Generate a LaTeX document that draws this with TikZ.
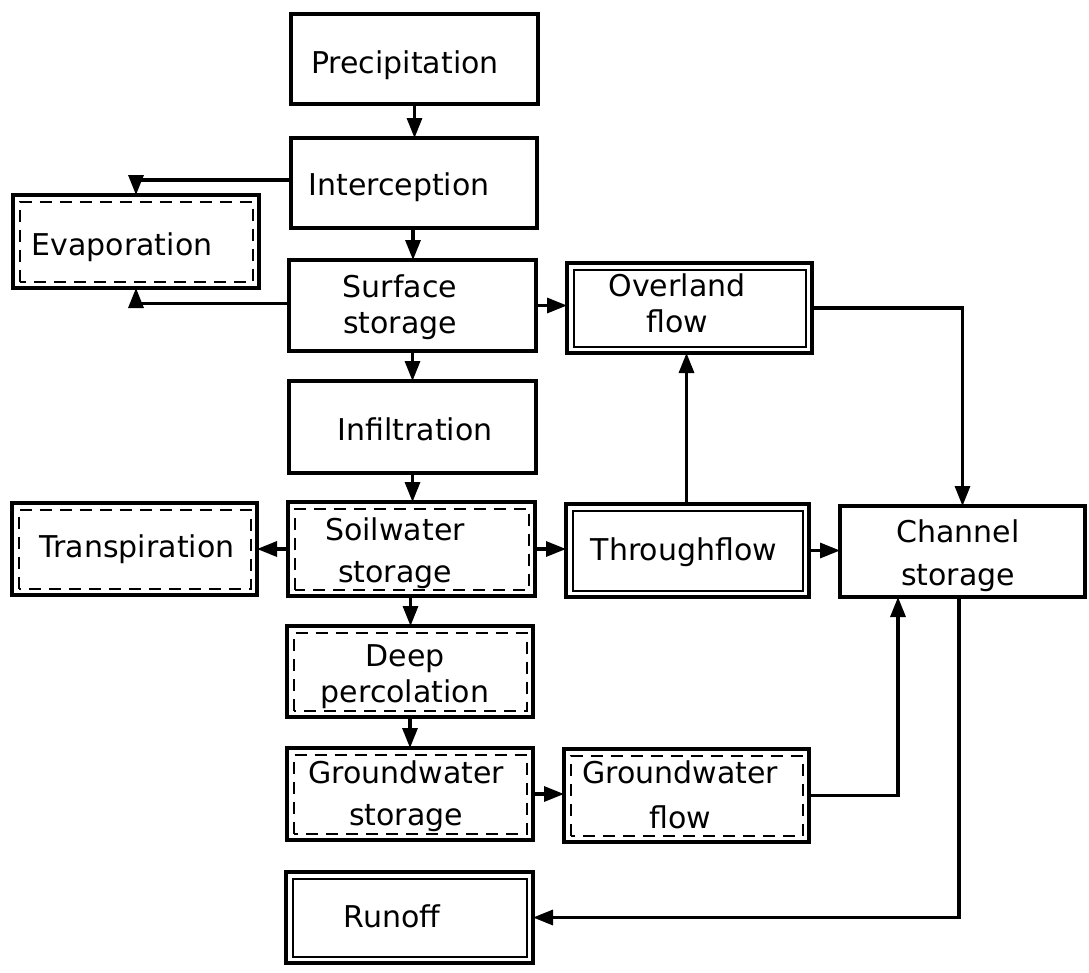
\documentclass[tikz,border=0pt]{standalone}
\usepackage{fontspec}
\setmainfont{DejaVu Sans}
\usetikzlibrary{arrows.meta}
\begin{document}
\begin{tikzpicture}[x=1pt,y=-1pt,
  box/.style={draw, line width=3.2pt, inner sep=0pt, outer sep=0pt},
  lbl/.style={font=\fontsize{30}{36}\selectfont, inner sep=0pt, align=center, anchor=base},
  arr/.style={line width=3.2pt, -{Triangle[length=20pt,width=15pt]}},
  inbox/.style={line width=2pt},
  inboxd/.style={line width=2pt, dash pattern=on 12pt off 8pt}]
\fill[white] (0,0) rectangle (1089,972);
\useasboundingbox (0,0) rectangle (1089,972);
% boxes
\node[box, minimum width=247pt, minimum height=90pt] (prec) at (414.5,59) {};
\node[box, minimum width=246pt, minimum height=90pt] (inter) at (414,183) {};
\node[box, minimum width=247pt, minimum height=91pt] (surf) at (412.5,305.5) {};
\node[box, minimum width=247pt, minimum height=92pt] (infil) at (412.5,427) {};
\node[box, minimum width=247pt, minimum height=94pt] (soil) at (411.5,549) {};
\node[box, minimum width=246pt, minimum height=91pt] (deep) at (410,671.5) {};
\node[box, minimum width=246pt, minimum height=92pt] (gws) at (410,794) {};
\node[box, minimum width=247pt, minimum height=91pt] (runoff) at (409.5,917.5) {};
\node[box, minimum width=246pt, minimum height=93pt] (evap) at (136,241.5) {};
\node[box, minimum width=245pt, minimum height=92pt] (transp) at (134.5,549) {};
\node[box, minimum width=245pt, minimum height=90pt] (over) at (689.5,308) {};
\node[box, minimum width=243pt, minimum height=93pt] (through) at (687.5,550.5) {};
\node[box, minimum width=245pt, minimum height=93pt] (gwf) at (686.5,795.5) {};
\node[box, minimum width=245pt, minimum height=91pt] (chan) at (962.5,551.5) {};
% inner frames
\foreach \n in {over,through,runoff}
  \draw[inbox] ([shift={(6.5pt,6.5pt)}]\n.south west) rectangle ([shift={(-6.5pt,-6.5pt)}]\n.north east);
\foreach \n in {evap,transp,soil,deep,gws,gwf}
  \draw[inboxd] ([shift={(6.5pt,6.5pt)}]\n.south west) rectangle ([shift={(-6.5pt,-6.5pt)}]\n.north east);
% labels (base = baseline of last line)
\node[lbl] (tprec) at (405,73) {Precipitation};
\node[lbl] (tinter) at (399,195) {Interception};
\node[lbl] (tsurf) at (400,333) {Surface\\storage};
\node[lbl] (tinfil) at (415,440) {Infiltration};
\node[lbl] (tsoil) at (395,582) {Soilwater\\[6pt]storage};
\node[lbl] (tevap) at (122,255) {Evaporation};
\node[lbl] (ttransp) at (137,557) {Transpiration};
\node[lbl] (tover) at (677,332) {Overland\\flow};
\node[lbl] (tthrough) at (684,560) {Throughflow};
\node[lbl] (tchan) at (958,585) {Channel\\[7pt]storage};
\node[lbl] (tdeep) at (405,702) {Deep\\percolation};
\node[lbl] (tgws) at (406,825) {Groundwater\\[6pt]storage};
\node[lbl] (tgwf) at (680,828) {Groundwater\\[9pt]flow};
\node[lbl] (trun) at (392,927) {Runoff};
% connectors
\draw[arr] (prec.south) -- (prec.south |- inter.north);
\draw[arr] ([xshift=-1pt]inter.south) -- ([xshift=-1pt]inter.south |- surf.north);
\draw[arr] (surf.south) -- (surf.south |- infil.north);
\draw[arr] (infil.south) -- (infil.south |- soil.north);
\draw[arr] ([xshift=-1pt]soil.south) -- ([xshift=-1pt]soil.south |- deep.north);
\draw[arr] (deep.south) -- (deep.south |- gws.north);
\draw[arr] ([yshift=3pt]inter.west) -| (evap.north);
\draw[arr] ([yshift=2pt]surf.west) -| (evap.south);
\draw[arr] (surf.east) -- (surf.east -| over.west);
\draw[arr] (over.east) -| (chan.north);
\draw[arr] (soil.west) -- (soil.west -| transp.east);
\draw[arr] (soil.east) -- (soil.east -| through.west);
\draw[arr] (through.east) -- (through.east -| chan.west);
\draw[arr] ([xshift=-1pt]through.north) -- ([xshift=-1pt]through.north |- over.south);
\draw[arr] (gws.east) -- (gws.east -| gwf.west);
\draw[arr] (gwf.east) -| ([xshift=-64.5pt]chan.south);
\draw[arr] ([xshift=-3.5pt]chan.south) |- (runoff.east);
\end{tikzpicture}
\end{document}
